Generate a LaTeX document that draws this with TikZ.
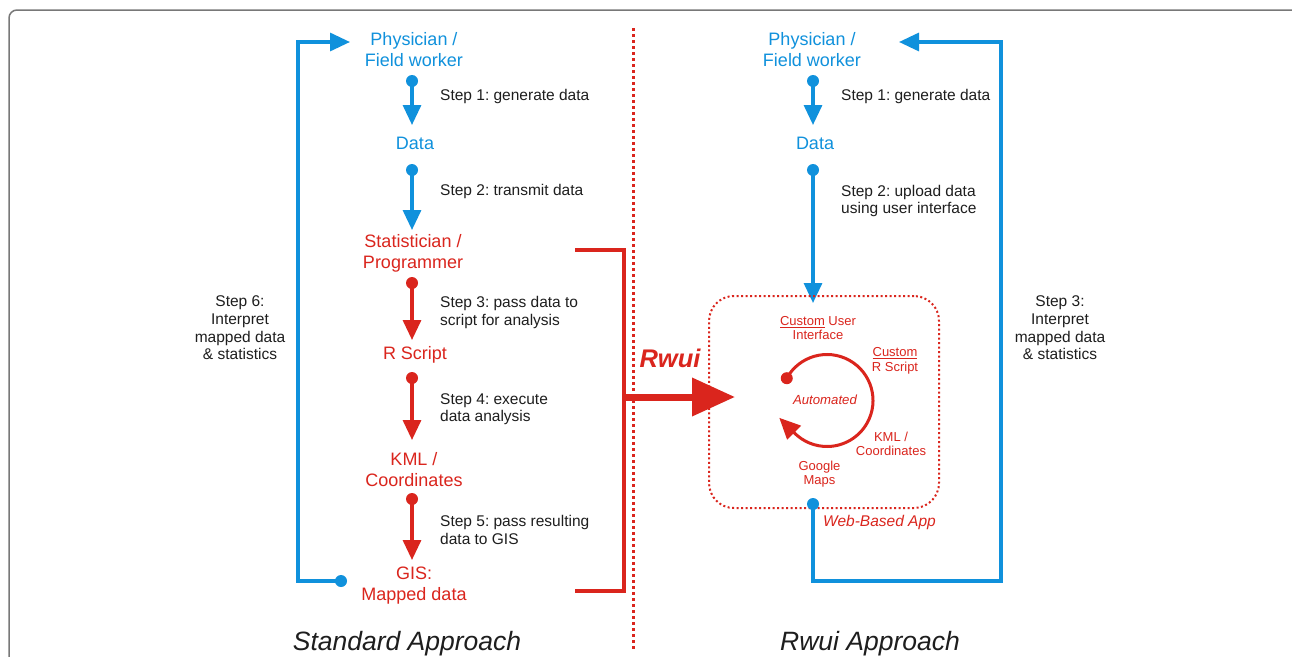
\documentclass[tikz,border=0pt]{standalone}
\usepackage{fontspec}
\setmainfont{Liberation Sans}
\usetikzlibrary{arrows.meta,calc}
\definecolor{rwblue}{RGB}{16,145,220}
\definecolor{rwred}{RGB}{218,37,29}
\definecolor{txt}{RGB}{30,30,30}
\definecolor{framegray}{RGB}{120,120,120}
\frenchspacing
\tikzset{
  lbl/.style={font=\fontsize{18}{20.5}\selectfont, align=center, inner sep=0pt},
  blbl/.style={lbl, text=rwblue},
  rlbl/.style={lbl, text=rwred},
  steptxt/.style={font=\fontsize{15.5}{17.6}\selectfont, text=txt, align=left, anchor=west, inner sep=0pt},
  sidetxt/.style={font=\fontsize{15.5}{17.6}\selectfont, text=txt, align=center, inner sep=0pt},
  applbl/.style={font=\fontsize{13}{14.5}\selectfont, text=rwred, align=center, inner sep=0pt},
  titletxt/.style={font=\fontsize{26.5}{30}\selectfont\itshape, text=txt, inner sep=0pt, anchor=base},
  bdot/.style={circle, fill=rwblue, minimum size=12pt, inner sep=0pt},
  rdot/.style={circle, fill=rwred, minimum size=12pt, inner sep=0pt},
  barrow/.style={draw=rwblue, line width=3.2pt, -{Triangle[width=18pt,length=20pt]}},
  rarrow/.style={draw=rwred, line width=3.2pt, -{Triangle[width=18pt,length=20pt]}},
  appbox/.style={draw=rwred, line width=2pt, dash pattern=on 2pt off 2.5pt, rounded corners=25pt, minimum width=230pt, minimum height=212pt, inner sep=0pt},
}
\begin{document}
\begin{tikzpicture}[x=1pt,y=-1pt]
\useasboundingbox (0,0) rectangle (1292,656);
\fill[white] (0,0) rectangle (1292,656);
\clip (0,0) rectangle (1292,656);
% frame
\draw[framegray, line width=1.5pt, rounded corners=8pt] (9,720) -- (9,10) -- (1299,10) -- (1299,720);

% separator
\draw[rwred, line width=3pt, dash pattern=on 3pt off 3pt] (633,28) -- (633,650);

% ---------- Standard approach ----------
\node[blbl] (phys1) at (414,49.5) {Physician /\\Field worker};
\node[blbl] (data1) at (415,143) {Data};
\node[rlbl] (stat) at (413,253.5) {Statistician /\\Programmer};
\node[rlbl] (rscr) at (415,355) {R Script};
\node[rlbl] (kml) at (414,469.5) {KML /\\Coordinates};
\node[rlbl] (gis) at (414,585.5) {GIS:\\Mapped data};

\node[bdot] (b1) at (412,81) {};
\coordinate (t1) at (412,125);
\node[bdot] (b2) at (412,170) {};
\coordinate (t2) at (412,230);
\node[rdot] (r3) at (412,283) {};
\coordinate (t3) at (412,340);
\node[rdot] (r4) at (412,378) {};
\coordinate (t4) at (412,440);
\node[rdot] (r5) at (412,499) {};
\coordinate (t5) at (412,560);
\draw[barrow] (b1.center) -- (t1);
\draw[barrow] (b2.center) -- (t2);
\draw[rarrow] (r3.center) -- (t3);
\draw[rarrow] (r4.center) -- (t4);
\draw[rarrow] (r5.center) -- (t5);

\node[steptxt] (s1) at (440,96.5) {Step 1: generate data};
\node[steptxt] (s2) at (440,191.5) {Step 2: transmit data};
\node[steptxt] (s3) at (440,312.5) {Step 3: pass data to\\script for analysis};
\node[steptxt] (s4) at (440,409) {Step 4: execute\\data analysis};
\node[steptxt] (s5) at (440,530) {Step 5: pass resulting\\data to GIS};

% left loop
\node[bdot] (bL) at (341,581) {};
\coordinate (L1) at (298,42);
\coordinate (tL) at (350,42);
\draw[barrow] (bL.center) -| (L1) -- (tL);
\node[sidetxt] (s6) at (240,328) {Step 6:\\Interpret\\mapped data\\\& statistics};

% bracket and Rwui arrow
\coordinate (k1) at (575,250);
\coordinate (k2) at (624,250);
\coordinate (k3) at (624,591);
\coordinate (k4) at (575,591);
\draw[rwred, line width=4pt] (k1) -- (k2) -- (k3) -- (k4);
\coordinate (ka) at (624,397);
\coordinate (kt) at (735,397);
\draw[rwred, line width=7pt, -{Triangle[width=37pt,length=43pt]}] (ka) -- (kt);
\node[font=\fontsize{25.5}{28}\selectfont\bfseries\itshape, text=rwred, inner sep=0pt] (rwui) at (670,358) {Rwui};

% ---------- Rwui approach ----------
\node[blbl] (phys2) at (812,49.5) {Physician /\\Field worker};
\node[blbl] (data2) at (815,143) {Data};
\node[bdot] (b6) at (813,81) {};
\coordinate (t6) at (813,125);
\node[bdot] (b7) at (813,170) {};
\coordinate (t7) at (813,303);
\draw[barrow] (b6.center) -- (t6);
\draw[barrow] (b7.center) -- (t7);
\node[steptxt] (s1r) at (841,96.5) {Step 1: generate data};
\node[steptxt] (s2r) at (841,201) {Step 2: upload data\\using user interface};

\node[appbox] (app) at (824,402) {};
\node[font=\fontsize{15.5}{17}\selectfont\itshape, text=rwred, inner sep=0pt] (web) at (879.5,522.5) {Web-Based App};

\node[applbl] (cui) at (818,328) {\underline{Custom} User\\Interface};
\node[applbl] (crs) at (895,361) {\underline{Custom}\\R Script};
\node[applbl] (kml2) at (891,444) {KML /\\Coordinates};
\node[applbl] (gm) at (819.5,474) {Google\\Maps};
\node[font=\fontsize{13.2}{15}\selectfont\itshape, text=rwred, inner sep=0pt] (auto) at (825,400) {Automated};

% automated cycle
\coordinate (cyc) at (827,400.5);
\node[rdot, minimum size=12pt] (cd) at ($(cyc)+(-151:46)$) {};
\coordinate (ab) at ($(cyc)+(135:46)$);
\coordinate (at) at ($(ab)+(-15.2,-15.2)$);
\draw[rwred, line width=3pt] (cd.center) arc[start angle=-151, end angle=136, radius=46];
\draw[rwred, line width=3pt, -{Triangle[width=19pt,length=21pt]}] (ab) -- (at);

% right loop
\node[bdot] (bR) at (813,504) {};
\coordinate (R1) at (1001,581);
\coordinate (R2) at (1001,42);
\coordinate (tR) at (899,42);
\draw[barrow] (bR.center) |- (R1) -- (R2) -- (tR);
\node[sidetxt] (s3r) at (1060,328) {Step 3:\\Interpret\\mapped data\\\& statistics};

% titles
\node[titletxt] (std) at (407,650.5) {Standard Approach};
\node[titletxt] (rwa) at (870,650.5) {Rwui Approach};
\end{tikzpicture}
\end{document}
